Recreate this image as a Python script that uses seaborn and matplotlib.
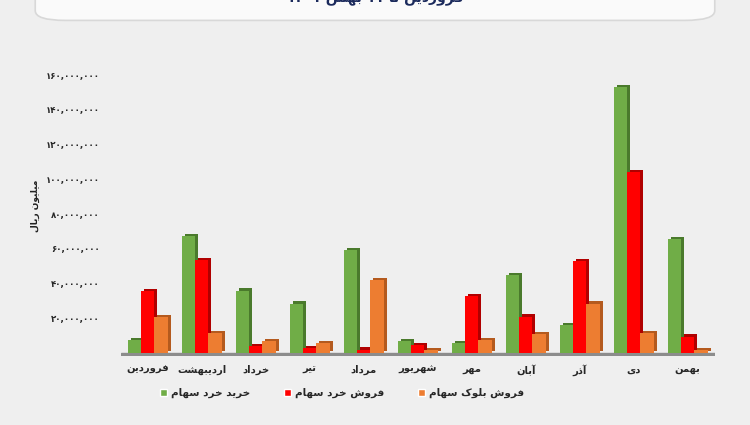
import pandas as pd
import seaborn as sns
import matplotlib.pyplot as plt
import matplotlib.patheffects as pe
from matplotlib.patches import FancyBboxPatch
from matplotlib.ticker import FuncFormatter

# months (left to right) and values in million rials
months = ['فروردین', 'اردیبهشت', 'خرداد', 'تیر', 'مرداد', 'شهریور',
          'مهر', 'آبان', 'آذر', 'دی', 'بهمن']
buy_retail = [7_600_000, 67_600_000, 36_000_000, 28_500_000, 59_400_000, 6_700_000,
              5_900_000, 45_000_000, 16_000_000, 153_400_000, 65_500_000]
sell_retail = [35_700_000, 53_700_000, 4_000_000, 2_800_000, 2_000_000, 4_700_000,
               33_000_000, 21_000_000, 52_800_000, 104_000_000, 9_500_000]
sell_block = [20_500_000, 11_600_000, 6_700_000, 5_700_000, 42_000_000, 1_500_000,
              7_600_000, 11_000_000, 28_500_000, 11_400_000, 1_500_000]
series_names = ['خرید خرد سهام', 'فروش خرد سهام', 'فروش بلوک سهام']
title = 'فروردین تا ۱۱ بهمن ۱۴۰۱'
ylabel = 'میلیون ریال'

# matplotlib has no arabic shaping, so pick presentation forms by hand
FORMS = {
    'آ': (0xFE81, 2), 'ا': (0xFE8D, 2), 'ب': (0xFE8F, 4), 'ت': (0xFE95, 4),
    'خ': (0xFEA5, 4), 'د': (0xFEA9, 2), 'ذ': (0xFEAB, 2), 'ر': (0xFEAD, 2),
    'س': (0xFEB1, 4), 'ش': (0xFEB5, 4), 'ف': (0xFED1, 4), 'ل': (0xFEDD, 4),
    'م': (0xFEE1, 4), 'ن': (0xFEE5, 4), 'ه': (0xFEE9, 4), 'و': (0xFEED, 2),
    'ک': (0xFB8E, 4), 'ی': (0xFBFC, 4),
}
FA_DIGITS = str.maketrans('0123456789', '۰۱۲۳۴۵۶۷۸۹')


def shape_word(w):
    out = []
    for i, ch in enumerate(w):
        if ch not in FORMS:
            out.append(ch)
            continue
        base, n = FORMS[ch]
        prev = w[i - 1] if i > 0 else None
        nxt = w[i + 1] if i + 1 < len(w) else None
        jp = prev in FORMS and FORMS[prev][1] == 4
        jn = n == 4 and nxt in FORMS
        off = 3 if (jp and jn) else 1 if jp else 2 if jn else 0
        out.append(chr(base + off))
    return ''.join(reversed(out))


def fa(text):
    res = []
    for w in text.split(' '):
        if w and all(c in '۰۱۲۳۴۵۶۷۸۹,' for c in w):
            res.append(w)
        else:
            res.append(shape_word(w))
    return ' '.join(reversed(res))


df = pd.DataFrame({
    'month': months * 3,
    'value': buy_retail + sell_retail + sell_block,
    'series': [series_names[0]] * 11 + [series_names[1]] * 11 + [series_names[2]] * 11,
})
df['month'] = df['month'].map(fa)
df['series'] = df['series'].map(fa)

sns.set_theme(style='white')
plt.rcParams['font.family'] = ['DejaVu Sans']

bg = '#efefef'
fig = plt.figure(figsize=(7.5, 4.25), dpi=100, facecolor=bg)
ax = fig.add_axes([0.161, 0.162, 0.792, 0.702])
ax.set_facecolor('none')

colors = ['#70ad47', '#ff0000', '#ed7d31']
dark = ['#4a7a2c', '#b00000', '#b45a1e']
sns.barplot(data=df, x='month', y='value', hue='series', palette=colors,
            width=0.74, ax=ax, saturation=1, legend=True)

# fake 3d depth with a darker offset copy
for cont, dc in zip(ax.containers, dark):
    for p in cont.patches:
        p.set_linewidth(0)
        p.set_path_effects([pe.SimplePatchShadow(offset=(2.2, 1.5), shadow_rgbFace=dc, alpha=1),
                            pe.Normal()])

# floor strip
ax.axhspan(-1_800_000, 0, xmin=0, xmax=1, color='#8c8c8c', zorder=0)

ax.set_xlim(-0.5, 10.5)
ax.set_ylim(-1_800_000, 170_000_000)
ax.set_yticks(range(20_000_000, 160_000_001, 20_000_000))
ax.yaxis.set_major_formatter(FuncFormatter(lambda v, _: f'{int(v):,}'.translate(FA_DIGITS)))
ax.tick_params(axis='y', length=0, pad=15, labelsize=6.2)
ax.tick_params(axis='x', length=0, pad=6, labelsize=7.2)
for lbl in ax.get_yticklabels() + ax.get_xticklabels():
    lbl.set_fontweight('bold')
ax.set_xlabel('')
ax.set_ylabel('')
sns.despine(ax=ax, left=True, bottom=True)

fig.text(0.047, 0.517, fa(ylabel), rotation=90, ha='center', va='center',
         fontsize=6.5, fontweight='bold', color='#222222')

leg = ax.legend(loc='center', bbox_to_anchor=(0.456, 0.075), bbox_transform=fig.transFigure,
                ncol=3, frameon=False, fontsize=7.5, handlelength=0.7, handleheight=0.7,
                handletextpad=0.4, columnspacing=3.2)
for t in leg.get_texts():
    t.set_fontweight('bold')

# title panel cut off at the top
box = FancyBboxPatch((0.047, 0.952), 0.906, 0.2, boxstyle='round,pad=0,rounding_size=0.04',
                     transform=fig.transFigure, facecolor='#fafafa', edgecolor='#d8d8d8',
                     linewidth=1.2, mutation_aspect=0.57)
fig.patches.append(box)
fig.text(0.5, 1.005, fa(title), ha='center', va='center', fontsize=10,
         fontweight='bold', color='#1b2a5c')

fig.savefig('out.png', dpi=100, facecolor=bg)
